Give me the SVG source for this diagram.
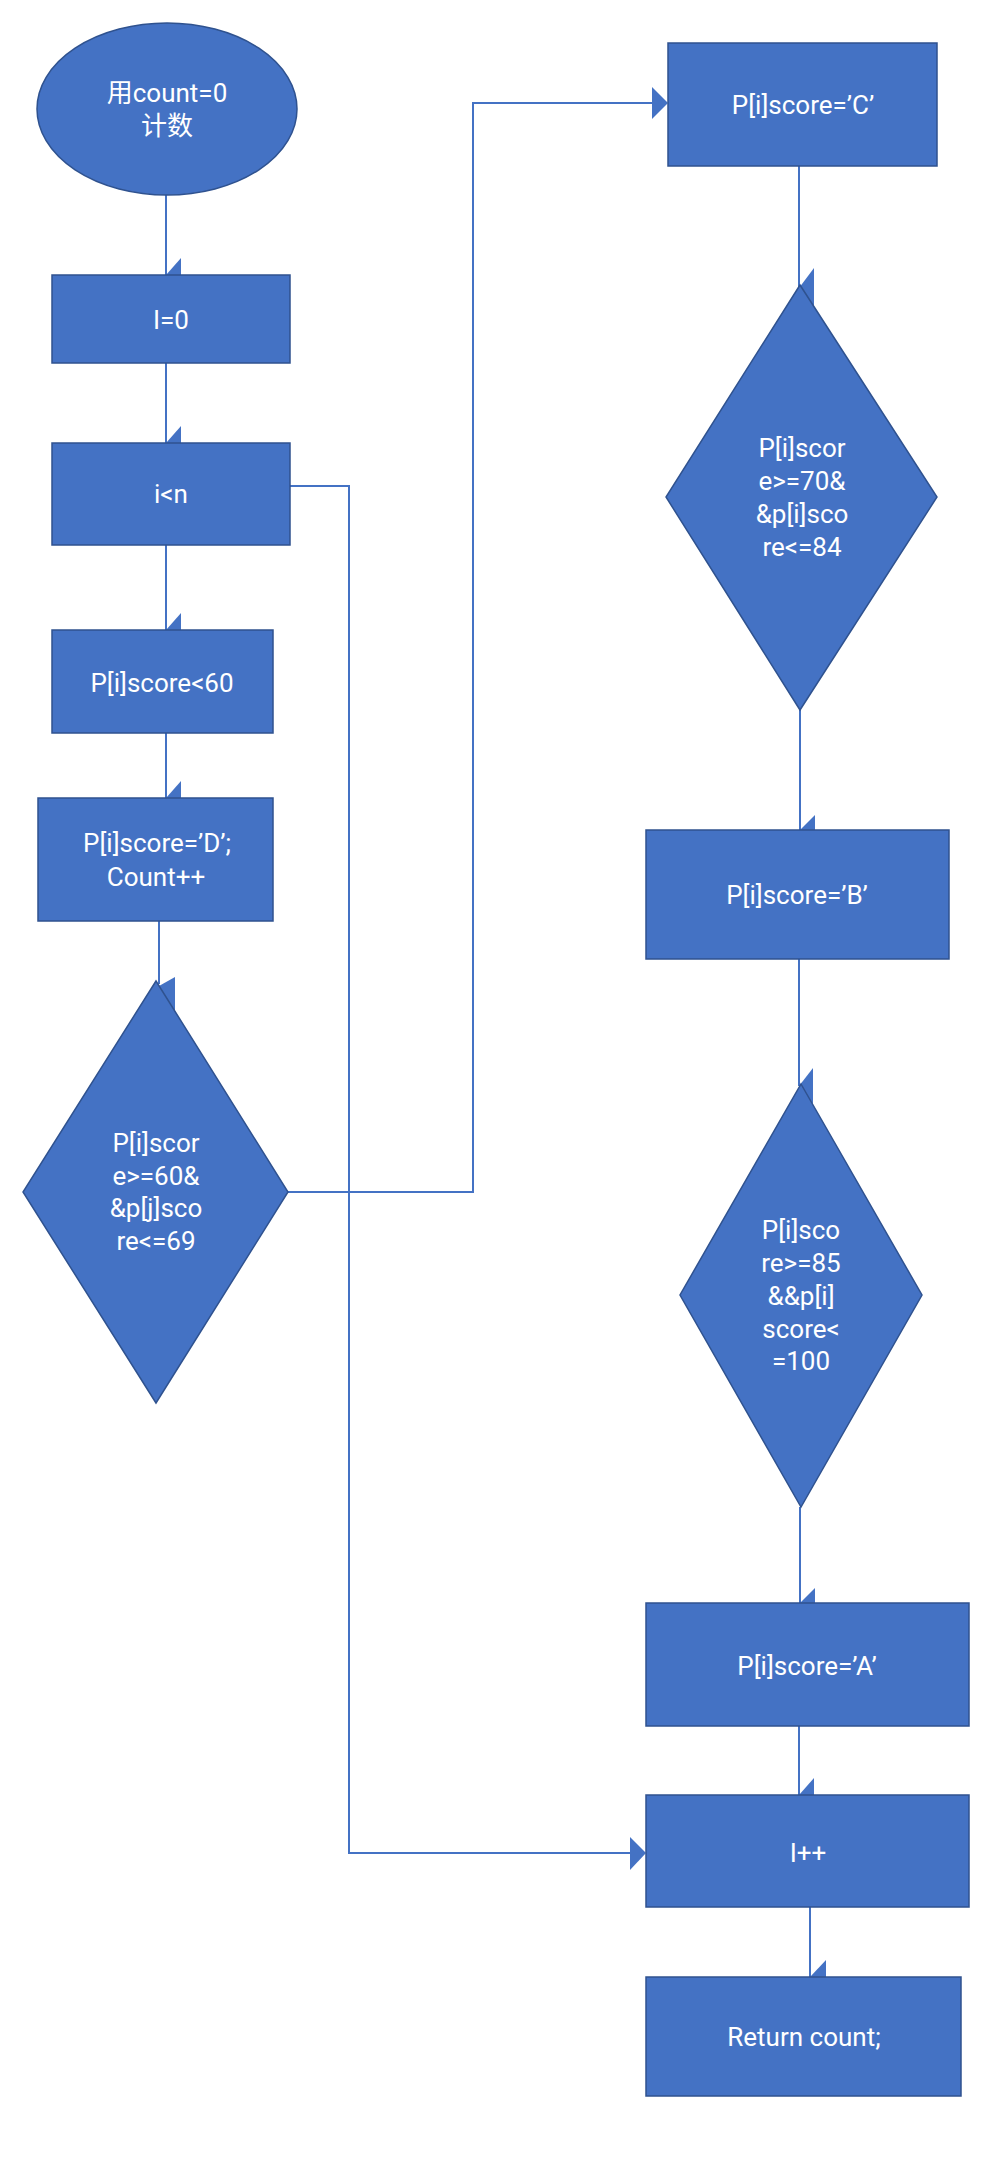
<svg xmlns="http://www.w3.org/2000/svg" width="988" height="2171" viewBox="0 0 988 2171">
<style>
.n{fill:#4472C4;stroke:#2F528F;stroke-width:1.5}
.t{fill:#FFFFFF;font-family:Roboto,"Noto Sans","Noto Sans CJK SC",sans-serif;font-size:26px;text-anchor:middle}
.c{fill:none;stroke:#4472C4;stroke-width:2}
.h{fill:#4472C4;stroke:none}
</style>
<rect width="988" height="2171" fill="#FFFFFF"/>
<g id="connectors">
<polyline class="c" points="166,195 166,275"/>
<polygon class="h" points="166,275 181,258 181,275"/>
<polyline class="c" points="166,363 166,443"/>
<polygon class="h" points="166,443 181,426 181,443"/>
<polyline class="c" points="166,545 166,630"/>
<polygon class="h" points="166,630 181,613 181,630"/>
<polyline class="c" points="166,733 166,798"/>
<polygon class="h" points="166,798 181,781 181,798"/>
<polyline class="c" points="159,921 159,984"/>
<polygon class="h" points="159,986 175,977 175,1012"/>
<polyline class="c" points="288,1192 473,1192 473,103 654,103"/>
<polygon class="h" points="668,103 652,87 652,119"/>
<polyline class="c" points="290,486 349,486 349,1853 632,1853"/>
<polygon class="h" points="646,1853 630,1837 630,1870"/>
<polyline class="c" points="799,166 799,288"/>
<polygon class="h" points="799,288 814,268 814,310"/>
<polyline class="c" points="800,710 800,830"/>
<polygon class="h" points="800,830 815,815 815,830"/>
<polyline class="c" points="799,959 799,1086"/>
<polygon class="h" points="799,1086 813,1068 813,1104"/>
<polyline class="c" points="800,1507 800,1603"/>
<polygon class="h" points="800,1603 815,1588 815,1603"/>
<polyline class="c" points="799,1726 799,1795"/>
<polygon class="h" points="799,1795 814,1778 814,1795"/>
<polyline class="c" points="810,1907 810,1977"/>
<polygon class="h" points="810,1977 826,1960 826,1977"/>
</g>
<g id="start">
<ellipse class="n" cx="167" cy="109" rx="130" ry="86"/>
<text class="t" x="167" y="102">用count=0</text>
<text class="t" x="167" y="135">计数</text>
</g>
<g id="init">
<rect class="n" x="52" y="275" width="238" height="88"/>
<text class="t" x="171" y="329">I=0</text>
</g>
<g id="loop">
<rect class="n" x="52" y="443" width="238" height="102"/>
<text class="t" x="171" y="503">i&lt;n</text>
</g>
<g id="lt60">
<rect class="n" x="52" y="630" width="221" height="103"/>
<text class="t" x="162" y="692">P[i]score&lt;60</text>
</g>
<g id="gradeD">
<rect class="n" x="38" y="798" width="235" height="123"/>
<text class="t" x="157" y="852">P[i]score=’D’;</text>
<text class="t" x="156" y="886">Count++</text>
</g>
<g id="cond60">
<polygon class="n" points="156,981 288,1192 156,1403 23,1192"/>
<text class="t" x="156" y="1152">P[i]scor</text>
<text class="t" x="156" y="1185">e&gt;=60&amp;</text>
<text class="t" x="156" y="1217">&amp;p[j]sco</text>
<text class="t" x="156" y="1250">re&lt;=69</text>
</g>
<g id="gradeC">
<rect class="n" x="668" y="43" width="269" height="123"/>
<text class="t" x="803" y="114">P[i]score=’C’</text>
</g>
<g id="cond70">
<polygon class="n" points="800,285 937,497 800,710 666,497"/>
<text class="t" x="802" y="457">P[i]scor</text>
<text class="t" x="802" y="490">e&gt;=70&amp;</text>
<text class="t" x="802" y="523">&amp;p[i]sco</text>
<text class="t" x="802" y="556">re&lt;=84</text>
</g>
<g id="gradeB">
<rect class="n" x="646" y="830" width="303" height="129"/>
<text class="t" x="797" y="904">P[i]score=’B’</text>
</g>
<g id="cond85">
<polygon class="n" points="801,1084 922,1295 801,1507 680,1295"/>
<text class="t" x="801" y="1239">P[i]sco</text>
<text class="t" x="801" y="1272">re&gt;=85</text>
<text class="t" x="801" y="1305">&amp;&amp;p[i]</text>
<text class="t" x="801" y="1338">score&lt;</text>
<text class="t" x="801" y="1370">=100</text>
</g>
<g id="gradeA">
<rect class="n" x="646" y="1603" width="323" height="123"/>
<text class="t" x="807" y="1675">P[i]score=’A’</text>
</g>
<g id="inc">
<rect class="n" x="646" y="1795" width="323" height="112"/>
<text class="t" x="808" y="1862">I++</text>
</g>
<g id="ret">
<rect class="n" x="646" y="1977" width="315" height="119"/>
<text class="t" x="804" y="2046">Return count;</text>
</g>
</svg>
